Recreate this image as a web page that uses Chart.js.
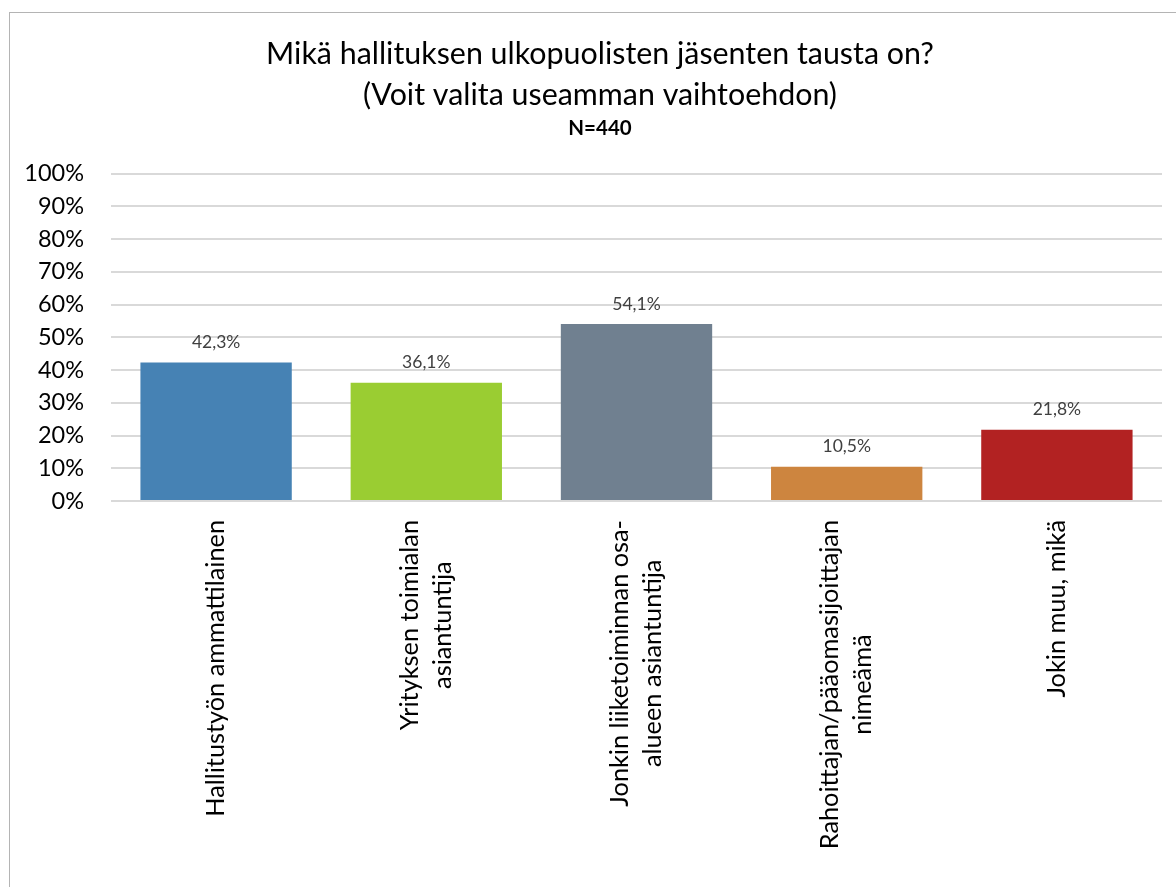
<!DOCTYPE html>
<html>
<head>
<meta charset="utf-8">
<script src="https://cdn.jsdelivr.net/npm/chart.js@4.4.1/dist/chart.umd.min.js"></script>
<style>
  html, body { margin: 0; padding: 0; background: #ffffff; overflow: hidden; }
  #wrap { position: relative; width: 1176px; height: 887px; overflow: hidden; }
  #frame { position: absolute; left: 9px; top: 12px; width: 1300px; height: 1000px;
           border-left: 1px solid #b4b4b4; border-top: 1px solid #b4b4b4; pointer-events: none; }
  canvas { position: absolute; left: 0; top: 0; }
</style>
</head>
<body>
<div id="wrap">
  <canvas id="c" width="1176" height="887"></canvas>
  <div id="frame"></div>
</div>
<script>
// ---- data ----
const titleLines = ["Mikä hallituksen ulkopuolisten jäsenten tausta on?", "(Voit valita useamman vaihtoehdon)"];
const subtitleText = "N=440";
const categories = [
  ["Hallitustyön ammattilainen"],
  ["Yrityksen toimialan", "asiantuntija"],
  ["Jonkin liiketoiminnan osa-", "alueen asiantuntija"],
  ["Rahoittajan/pääomasijoittajan", "nimeämä"],
  ["Jokin muu, mikä"]
];
const values = [42.3, 36.1, 54.1, 10.5, 21.8];
const barColors = ["#4682B4", "#9ACD32", "#708090", "#CD853F", "#B22222"];
const yTickMin = 0, yTickMax = 100, yTickStep = 10;

const FONT = "Lato, 'Open Sans', sans-serif";

// shift the title/subtitle blocks so that they are centred on the chart frame
const titleShift = {
  id: 'titleShift',
  afterLayout(chart) {
    const T = chart.titleBlock && chart.titleBlock.constructor;
    if (!T) return;
    chart.boxes.forEach(b => {
      if (b instanceof T) { b.left += 19; b.right += 19; }
    });
  }
};

// data labels above bars
const valueLabels = {
  id: 'valueLabels',
  afterDatasetsDraw(chart) {
    const ctx = chart.ctx;
    const meta = chart.getDatasetMeta(0);
    ctx.save();
    ctx.font = "17.5px " + FONT;
    ctx.fillStyle = "#404040";
    ctx.textAlign = "center";
    ctx.textBaseline = "middle";
    meta.data.forEach((bar, i) => {
      const txt = values[i].toFixed(1).replace('.', ',') + '%';
      ctx.fillText(txt, bar.x, bar.y - 20);
    });
    ctx.restore();
  }
};

// rotated, centred multi-line category labels
const categoryLabels = {
  id: 'categoryLabels',
  afterDraw(chart) {
    const ctx = chart.ctx;
    const xs = chart.scales.x;
    const top = chart.chartArea.bottom + 19;
    const lh = 33;
    ctx.save();
    ctx.font = "25.3px " + FONT;
    ctx.fillStyle = "#000000";
    ctx.textAlign = "center";
    ctx.textBaseline = "middle";
    categories.forEach((lines, i) => {
      const px = xs.getPixelForValue(i);
      let maxW = 0;
      lines.forEach(l => { maxW = Math.max(maxW, ctx.measureText(l).width); });
      ctx.save();
      ctx.translate(px, top);
      ctx.rotate(-Math.PI / 2);
      lines.forEach((l, j) => {
        ctx.fillText(l, -maxW / 2, (j - (lines.length - 1) / 2) * lh);
      });
      ctx.restore();
    });
    ctx.restore();
  }
};

new Chart(document.getElementById('c'), {
  type: 'bar',
  data: {
    labels: categories,
    datasets: [{
      data: values,
      backgroundColor: barColors,
      borderWidth: 0,
      barPercentage: 0.72,
      categoryPercentage: 1.0
    }]
  },
  options: {
    responsive: false,
    animation: false,
    layout: { padding: { left: 0, right: 14, top: 0, bottom: 386 } },
    plugins: {
      legend: { display: false },
      tooltip: { enabled: false },
      title: {
        display: true,
        text: titleLines,
        color: '#000000',
        font: { family: FONT, size: 30.4, weight: 'normal', lineHeight: 1.35 },
        padding: { top: 34, bottom: 0 }
      },
      subtitle: {
        display: true,
        text: subtitleText,
        color: '#000000',
        font: { family: FONT, size: 20.5, weight: 'bold', lineHeight: 1.2 },
        padding: { top: 0, bottom: 33 }
      }
    },
    scales: {
      x: {
        afterFit(scale) { scale.height = 0; },
        grid: { display: false },
        border: { display: false },
        ticks: { display: false }
      },
      y: {
        min: yTickMin,
        max: yTickMax,
        afterFit(scale) { scale.width = 111; },
        ticks: {
          stepSize: yTickStep,
          padding: 27,
          color: '#000000',
          font: { family: FONT, size: 23.5 },
          callback: v => v + '%'
        },
        grid: { color: '#d9d9d9', lineWidth: 2, drawTicks: false },
        border: { display: false }
      }
    }
  },
  plugins: [titleShift, valueLabels, categoryLabels]
});
</script>
</body>
</html>
